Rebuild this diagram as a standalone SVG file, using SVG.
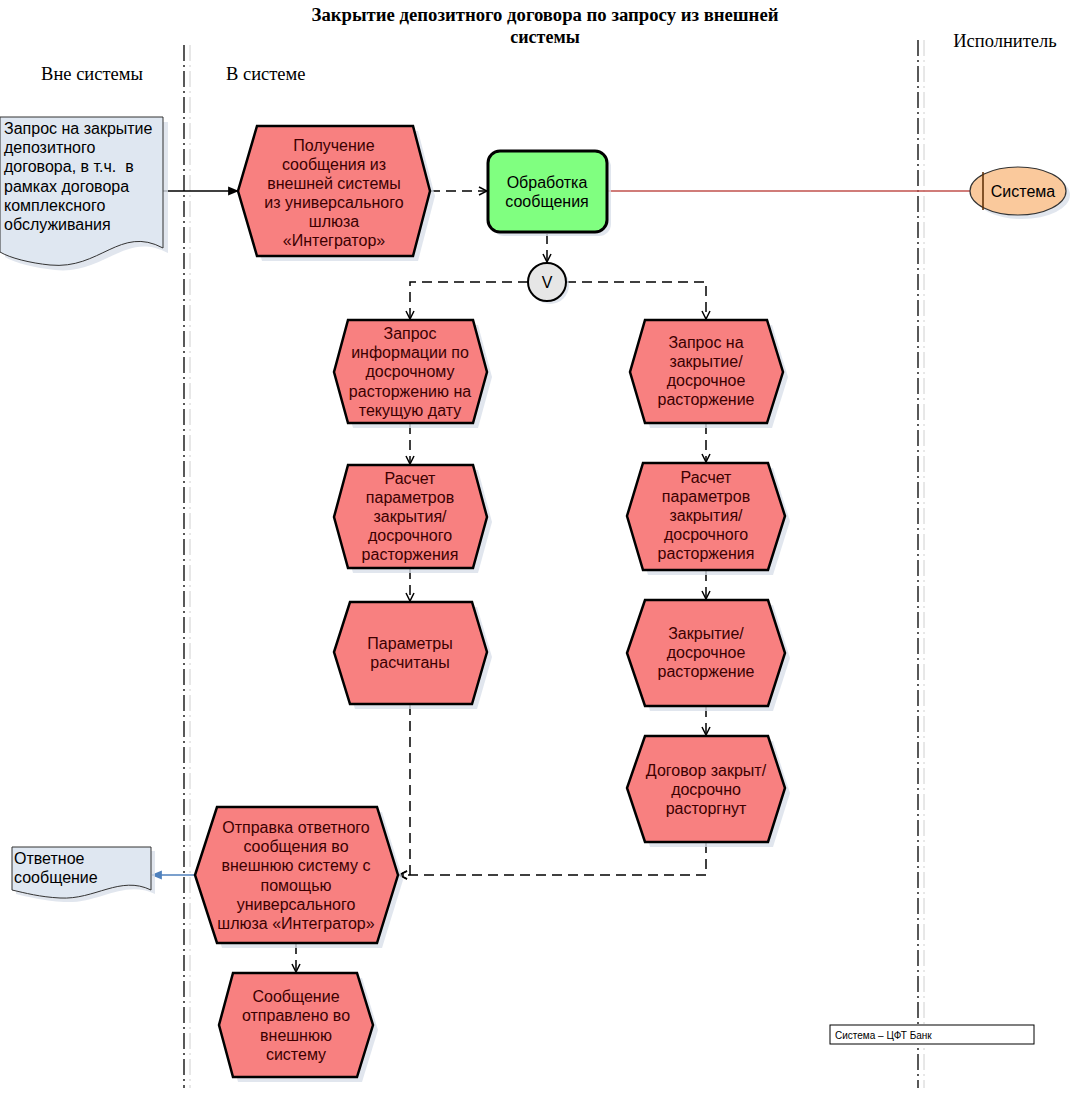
<svg xmlns="http://www.w3.org/2000/svg" width="1071" height="1094" viewBox="0 0 1071 1094">
<defs>
<marker id="open" viewBox="0 0 10 10" refX="9" refY="5" markerWidth="10" markerHeight="10" markerUnits="userSpaceOnUse" orient="auto">
<path d="M1,1 L9,5 L1,9" fill="none" stroke="#000" stroke-width="1.5"/>
</marker>
<marker id="solid" viewBox="0 0 10 10" refX="9" refY="5" markerWidth="11" markerHeight="11" markerUnits="userSpaceOnUse" orient="auto">
<path d="M0,1 L10,5 L0,9 Z" fill="#000"/>
</marker>
<marker id="blue" viewBox="0 0 10 10" refX="9" refY="5" markerWidth="11" markerHeight="11" markerUnits="userSpaceOnUse" orient="auto">
<path d="M0,1 L10,5 L0,9 Z" fill="#4f81bd"/>
</marker>
</defs>
<style>
.hex{fill:#f88080;stroke:#000;stroke-width:2.5;stroke-linejoin:miter}
.sh{fill:#d9e0ea;opacity:0.8}
.t{font-family:"Liberation Sans",Arial,sans-serif;font-size:16px;fill:#3c0000;text-anchor:middle}
.tl{font-family:"Liberation Sans",Arial,sans-serif;font-size:16px;fill:#000}
.serif{font-family:"Liberation Serif","Times New Roman",serif;font-size:18.5px;fill:#000}
.title{font-family:"Liberation Serif","Times New Roman",serif;font-size:18px;font-weight:bold;fill:#000;text-anchor:middle}
.dash{fill:none;stroke:#000;stroke-width:1.5;stroke-dasharray:10,6}
.lane{fill:none;stroke:#000;stroke-width:1.3;stroke-dasharray:16,4,2,4}
.lane2{fill:none;stroke:#d0d0d0;stroke-width:1;stroke-dasharray:16,4,2,4}
.doc{fill:#dfe7f1;stroke:#333;stroke-width:1}
</style>

<g id="lanes">
<line class="lane" x1="184" y1="45" x2="184" y2="1088"/>
<line class="lane2" x1="190" y1="45" x2="190" y2="1088"/>
<line class="lane" x1="918" y1="40" x2="918" y2="1088"/>
<line class="lane2" x1="924" y1="40" x2="924" y2="1088"/>
</g>

<g id="labels">
<text class="title" x="545" y="21" textLength="467" lengthAdjust="spacingAndGlyphs">Закрытие депозитного договора по запросу из внешней</text>
<text class="title" x="545" y="43">системы</text>
<text class="serif" x="92" y="80" text-anchor="middle">Вне системы</text>
<text class="serif" x="226" y="80">В системе</text>
<text class="serif" x="1005" y="47" text-anchor="middle">Исполнитель</text>
</g>

<g id="connectors">
<line x1="163" y1="191" x2="238" y2="191" stroke="#000" stroke-width="1.5" marker-end="url(#solid)"/>
<line class="dash" x1="430" y1="191" x2="487" y2="191" marker-end="url(#open)"/>
<line x1="607" y1="191" x2="971" y2="191" stroke="#c0504d" stroke-width="1.5"/>
<line class="dash" x1="547" y1="234" x2="547" y2="262" marker-end="url(#open)"/>
<polyline class="dash" points="528,282 410,282 410,319" marker-end="url(#open)"/>
<polyline class="dash" points="566,282 706,282 706,319" marker-end="url(#open)"/>
<line class="dash" x1="410" y1="424" x2="410" y2="464" marker-end="url(#open)"/>
<line class="dash" x1="410" y1="569" x2="410" y2="601" marker-end="url(#open)"/>
<line class="dash" x1="706" y1="424" x2="706" y2="462" marker-end="url(#open)"/>
<line class="dash" x1="706" y1="571" x2="706" y2="599" marker-end="url(#open)"/>
<line class="dash" x1="706" y1="707" x2="706" y2="735" marker-end="url(#open)"/>
<polyline class="dash" points="410,705 410,875 399,875" marker-end="url(#open)"/>
<polyline class="dash" points="706,843 706,875 399,875" marker-end="url(#open)"/>
<line class="dash" x1="296" y1="944" x2="296" y2="972" marker-end="url(#open)"/>
<line x1="195" y1="875" x2="152" y2="875" stroke="#4f81bd" stroke-width="1.5" marker-end="url(#blue)"/>
</g>

<g id="doc-request">
<path class="sh" d="M5,122 H168 V253 C125,230 105,275 55,270 C35,268 15,263 5,257 Z"/>
<path class="doc" d="M0,117 H163 V248 C120,225 100,270 50,265 C30,263 10,258 0,252 Z"/>
<text class="tl" x="4" y="134">Запрос на закрытие</text>
<text class="tl" x="4" y="153">депозитного</text>
<text class="tl" x="4" y="172" xml:space="preserve">договора, в т.ч.  в</text>
<text class="tl" x="4" y="192">рамках договора</text>
<text class="tl" x="4" y="211">комплексного</text>
<text class="tl" x="4" y="230">обслуживания</text>
</g>

<g id="hex-receive">
<polygon class="sh" points="262,131 418,131 435,196 418,261 262,261 243,196"/>
<polygon class="hex" points="257,126 413,126 430,191 413,256 257,256 238,191"/>
<text class="t" x="334" y="151">Получение</text>
<text class="t" x="334" y="170">сообщения из</text>
<text class="t" x="334" y="189">внешней системы</text>
<text class="t" x="334" y="208">из универсального</text>
<text class="t" x="334" y="227">шлюза</text>
<text class="t" x="334" y="246">«Интегратор»</text>
</g>

<g id="proc-message">
<rect x="492" y="155" width="119" height="81" rx="12" fill="#d9e0ea" opacity="0.8"/>
<rect x="488" y="151" width="119" height="81" rx="12" fill="#80ff80" stroke="#000" stroke-width="3"/>
<text class="t" x="547" y="188" style="fill:#000">Обработка</text>
<text class="t" x="547" y="207" style="fill:#000">сообщения</text>
</g>

<g id="actor-system">
<ellipse cx="1022" cy="195" rx="48" ry="24" fill="#d9e0ea" opacity="0.8"/>
<ellipse cx="1018" cy="191" rx="48" ry="24" fill="#fac99c" stroke="#333" stroke-width="1.2"/>
<line x1="983" y1="172" x2="983" y2="210" stroke="#5a2a00" stroke-width="1.5"/>
<text class="t" x="1023" y="197" style="fill:#000">Система</text>
</g>

<g id="xor">
<circle cx="550" cy="285" r="19" fill="#d9e0ea" opacity="0.8"/>
<circle cx="547" cy="282" r="19" fill="#e6e6e6" stroke="#000" stroke-width="2"/>
<text class="t" x="547" y="288" style="fill:#000">V</text>
</g>

<g id="hex-info-request">
<polygon class="sh" points="353,325 478,325 492,377 478,428 353,428 339,377"/>
<polygon class="hex" points="348,320 473,320 487,372 473,423 348,423 334,372"/>
<text class="t" x="410" y="339">Запрос</text>
<text class="t" x="410" y="358">информации по</text>
<text class="t" x="410" y="377">досрочному</text>
<text class="t" x="410" y="397">расторжению на</text>
<text class="t" x="410" y="416">текущую дату</text>
</g>

<g id="hex-close-request">
<polygon class="sh" points="650,325 772,325 788,377 772,428 650,428 635,377"/>
<polygon class="hex" points="645,320 767,320 783,372 767,423 645,423 630,372"/>
<text class="t" x="706" y="348">Запрос на</text>
<text class="t" x="706" y="367">закрытие/</text>
<text class="t" x="706" y="386">досрочное</text>
<text class="t" x="706" y="405">расторжение</text>
</g>

<g id="hex-calc-left">
<polygon class="sh" points="353,470 478,470 492,522 478,573 353,573 339,522"/>
<polygon class="hex" points="348,465 473,465 487,517 473,568 348,568 334,517"/>
<text class="t" x="410" y="484">Расчет</text>
<text class="t" x="410" y="503">параметров</text>
<text class="t" x="410" y="522">закрытия/</text>
<text class="t" x="410" y="541">досрочного</text>
<text class="t" x="410" y="560">расторжения</text>
</g>

<g id="hex-calc-right">
<polygon class="sh" points="648,468 773,468 790,521 773,575 648,575 632,521"/>
<polygon class="hex" points="643,463 768,463 785,516 768,570 643,570 627,516"/>
<text class="t" x="706" y="483">Расчет</text>
<text class="t" x="706" y="502">параметров</text>
<text class="t" x="706" y="521">закрытия/</text>
<text class="t" x="706" y="540">досрочного</text>
<text class="t" x="706" y="559">расторжения</text>
</g>

<g id="hex-params-done">
<polygon class="sh" points="355,607 477,607 492,657 477,709 355,709 339,657"/>
<polygon class="hex" points="350,602 472,602 487,652 472,704 350,704 334,652"/>
<text class="t" x="410" y="649">Параметры</text>
<text class="t" x="410" y="668">расчитаны</text>
</g>

<g id="hex-closing">
<polygon class="sh" points="650,605 773,605 790,658 773,711 650,711 632,658"/>
<polygon class="hex" points="645,600 768,600 785,653 768,706 645,706 627,653"/>
<text class="t" x="706" y="639">Закрытие/</text>
<text class="t" x="706" y="658">досрочное</text>
<text class="t" x="706" y="677">расторжение</text>
</g>

<g id="hex-closed">
<polygon class="sh" points="650,741 773,741 790,793 773,847 650,847 632,793"/>
<polygon class="hex" points="645,736 768,736 785,788 768,842 645,842 627,788"/>
<text class="t" x="706" y="776">Договор закрыт/</text>
<text class="t" x="706" y="795">досрочно</text>
<text class="t" x="706" y="814">расторгнут</text>
</g>

<g id="hex-send">
<polygon class="sh" points="222,812 382,812 403,880 382,948 222,948 200,880"/>
<polygon class="hex" points="217,807 377,807 398,875 377,943 217,943 195,875"/>
<text class="t" x="296" y="833">Отправка ответного</text>
<text class="t" x="296" y="852">сообщения во</text>
<text class="t" x="296" y="871">внешнюю систему с</text>
<text class="t" x="296" y="891">помощью</text>
<text class="t" x="296" y="910">универсального</text>
<text class="t" x="296" y="929">шлюза «Интегратор»</text>
</g>

<g id="hex-sent">
<polygon class="sh" points="238,978 362,978 378,1030 362,1082 238,1082 224,1030"/>
<polygon class="hex" points="233,973 357,973 373,1025 357,1077 233,1077 219,1025"/>
<text class="t" x="296" y="1002">Сообщение</text>
<text class="t" x="296" y="1021">отправлено во</text>
<text class="t" x="296" y="1041">внешнюю</text>
<text class="t" x="296" y="1060">систему</text>
</g>

<g id="doc-response">
<path class="sh" d="M16,851 H155 V894 C124,879 99,904 64,902 C44,901 29,897 16,894 Z"/>
<path class="doc" d="M12,847 H151 V890 C120,875 95,900 60,898 C40,897 25,893 12,890 Z"/>
<text class="tl" x="14" y="864">Ответное</text>
<text class="tl" x="14" y="883">сообщение</text>
</g>

<g id="legend">
<rect x="830" y="1025" width="204" height="19" fill="#fff" stroke="#000" stroke-width="1"/>
<text x="835" y="1039" style="font-family:'Liberation Sans',Arial,sans-serif;font-size:10px;fill:#000">Система – ЦФТ Банк</text>
</g>
</svg>
